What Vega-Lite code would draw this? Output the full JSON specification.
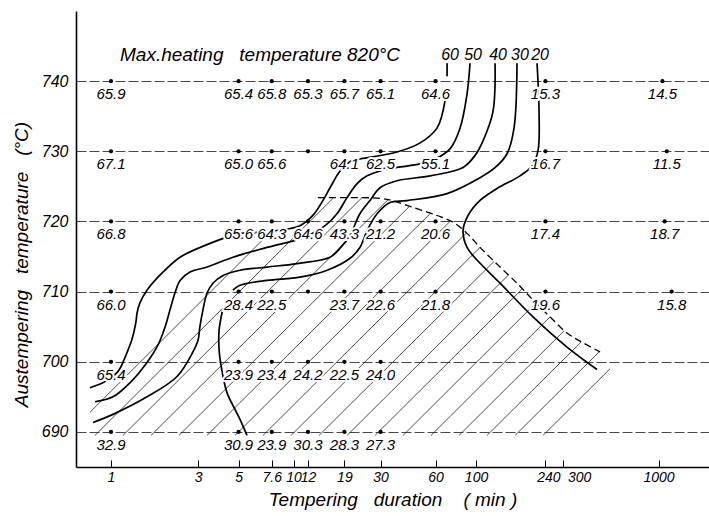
{
  "$schema": "https://vega.github.io/schema/vega-lite/v6.json",
  "width": 633,
  "height": 456,
  "autosize": {"type": "none"},
  "padding": {"left": 76, "top": 11, "right": 0, "bottom": 49},
  "background": "white",
  "config": {"view": {"stroke": null}, "font": "Liberation Sans"},
  "datasets": {
    "points": [
      {"t":1,"T":740,"h":"65.9"},{"t":5,"T":740,"h":"65.4"},{"t":7.6,"T":740,"h":"65.8"},{"t":12,"T":740,"h":"65.3"},{"t":19,"T":740,"h":"65.7"},{"t":30,"T":740,"h":"65.1"},{"t":60,"T":740,"h":"64.6"},{"t":240,"T":740,"h":"15.3"},{"t":1050,"T":740,"h":"14.5"},
      {"t":1,"T":730,"h":"67.1"},{"t":5,"T":730,"h":"65.0"},{"t":7.6,"T":730,"h":"65.6"},{"t":12,"T":730,"h":""},{"t":19,"T":730,"h":"64.1"},{"t":30,"T":730,"h":"62.5"},{"t":60,"T":730,"h":"55.1"},{"t":240,"T":730,"h":"16.7"},{"t":1110,"T":730,"h":"11.5"},
      {"t":1,"T":720,"h":"66.8"},{"t":5,"T":720,"h":"65.6"},{"t":7.6,"T":720,"h":"64.3"},{"t":12,"T":720,"h":"64.6"},{"t":19,"T":720,"h":"43.3"},{"t":30,"T":720,"h":"21.2"},{"t":60,"T":720,"h":"20.6"},{"t":240,"T":720,"h":"17.4"},{"t":1080,"T":720,"h":"18.7"},
      {"t":1,"T":710,"h":"66.0"},{"t":5,"T":710,"h":"28.4"},{"t":7.6,"T":710,"h":"22.5"},{"t":12,"T":710,"h":""},{"t":19,"T":710,"h":"23.7"},{"t":30,"T":710,"h":"22.6"},{"t":60,"T":710,"h":"21.8"},{"t":240,"T":710,"h":"19.6"},{"t":1180,"T":710,"h":"15.8"},
      {"t":1,"T":700,"h":"65.4"},{"t":5,"T":700,"h":"23.9"},{"t":7.6,"T":700,"h":"23.4"},{"t":12,"T":700,"h":"24.2"},{"t":19,"T":700,"h":"22.5"},{"t":30,"T":700,"h":"24.0"},
      {"t":1,"T":690,"h":"32.9"},{"t":5,"T":690,"h":"30.9"},{"t":7.6,"T":690,"h":"23.9"},{"t":12,"T":690,"h":"30.3"},{"t":19,"T":690,"h":"28.3"},{"t":30,"T":690,"h":"27.3"}
    ],
    "curves": [
      {"c":"60tick","i":0,"t":69.4,"T":742.55,"lab":"60"},{"c":"60tick","i":1,"t":69.4,"T":740.7},
      {"c":"60","i":0,"t":67.6,"T":737.2},{"c":"60","i":1,"t":61.1,"T":733.3},{"c":"60","i":2,"t":49.4,"T":731.2},{"c":"60","i":3,"t":36.9,"T":729.9},{"c":"60","i":4,"t":23.1,"T":728.9},{"c":"60","i":5,"t":20.9,"T":728.7},{"c":"60","i":6,"t":18.0,"T":727.2},{"c":"60","i":7,"t":15.85,"T":724.8},{"c":"60","i":8,"t":14.5,"T":723.0},{"c":"60","i":9,"t":12.8,"T":720.9},{"c":"60","i":10,"t":10.85,"T":719.4},{"c":"60","i":11,"t":9.57,"T":719.0},{"c":"60","i":12,"t":7.43,"T":718.6},{"c":"60","i":13,"t":6.0,"T":718.4},{"c":"60","i":14,"t":5.09,"T":718.3},{"c":"60","i":15,"t":3.36,"T":716.7},{"c":"60","i":16,"t":2.39,"T":714.9},{"c":"60","i":17,"t":1.93,"T":712.8},{"c":"60","i":18,"t":1.575,"T":710.2},{"c":"60","i":19,"t":1.44,"T":708.4},{"c":"60","i":20,"t":1.39,"T":707.0},{"c":"60","i":21,"t":1.37,"T":705.7},{"c":"60","i":22,"t":1.30,"T":703.1},{"c":"60","i":23,"t":1.24,"T":701.7},{"c":"60","i":24,"t":1.18,"T":700.3},{"c":"60","i":25,"t":1.09,"T":698.6},{"c":"60","i":26,"t":0.927,"T":697.2},{"c":"60","i":27,"t":0.767,"T":696.3},
      {"c":"50","i":0,"t":92.7,"T":742.55,"lab":"50"},{"c":"50","i":1,"t":89.3,"T":738.2},{"c":"50","i":2,"t":81.7,"T":733.3},{"c":"50","i":3,"t":72.0,"T":730.35},{"c":"50","i":4,"t":59.6,"T":728.9},{"c":"50","i":5,"t":49.4,"T":728.2},{"c":"50","i":6,"t":36.9,"T":727.7},{"c":"50","i":7,"t":29.8,"T":727.2},{"c":"50","i":8,"t":25.3,"T":726.5},{"c":"50","i":9,"t":22.3,"T":725.4},{"c":"50","i":10,"t":19.65,"T":723.4},{"c":"50","i":11,"t":17.3,"T":721.1},{"c":"50","i":12,"t":14.9,"T":719.4},{"c":"50","i":13,"t":11.3,"T":717.7},{"c":"50","i":14,"t":7.16,"T":716.3},{"c":"50","i":15,"t":4.66,"T":714.9},{"c":"50","i":16,"t":3.36,"T":713.5},{"c":"50","i":17,"t":2.71,"T":712.8},{"c":"50","i":18,"t":2.39,"T":711.6},{"c":"50","i":19,"t":2.24,"T":709.8},{"c":"50","i":20,"t":2.105,"T":707.4},{"c":"50","i":21,"t":1.98,"T":705.0},{"c":"50","i":22,"t":1.81,"T":702.4},{"c":"50","i":23,"t":1.575,"T":699.9},{"c":"50","i":24,"t":1.27,"T":697.0},{"c":"50","i":25,"t":1.025,"T":695.0},{"c":"50","i":26,"t":0.817,"T":694.3},
      {"c":"40","i":0,"t":127.1,"T":742.55,"lab":"40"},{"c":"40","i":1,"t":123.9,"T":735.7},{"c":"40","i":2,"t":109.2,"T":731.5},{"c":"40","i":3,"t":98.7,"T":729.4},{"c":"40","i":4,"t":84.9,"T":727.7},{"c":"40","i":5,"t":56.0,"T":726.5},{"c":"40","i":6,"t":36.9,"T":725.8},{"c":"40","i":7,"t":29.8,"T":724.8},{"c":"40","i":8,"t":26.25,"T":723.0},{"c":"40","i":9,"t":23.1,"T":721.1},{"c":"40","i":10,"t":20.4,"T":718.0},{"c":"40","i":11,"t":18.0,"T":716.2},{"c":"40","i":12,"t":15.85,"T":714.9},{"c":"40","i":13,"t":10.45,"T":714.0},{"c":"40","i":14,"t":7.16,"T":713.5},{"c":"40","i":15,"t":5.09,"T":713.05},{"c":"40","i":16,"t":4.11,"T":712.3},{"c":"40","i":17,"t":3.62,"T":711.2},{"c":"40","i":18,"t":3.36,"T":709.8},{"c":"40","i":19,"t":3.19,"T":707.4},{"c":"40","i":20,"t":3.07,"T":705.0},{"c":"40","i":21,"t":3.0,"T":703.1},{"c":"40","i":22,"t":2.81,"T":701.4},{"c":"40","i":23,"t":2.30,"T":697.9},{"c":"40","i":24,"t":1.575,"T":695.0},{"c":"40","i":25,"t":1.025,"T":692.5},{"c":"40","i":26,"t":0.797,"T":691.35},
      {"c":"30a","i":0,"t":167.7,"T":742.55,"lab":"30"},{"c":"30a","i":1,"t":161.5,"T":733.3},{"c":"30a","i":2,"t":147.9,"T":729.65},{"c":"30a","i":3,"t":127.1,"T":727.66},{"c":"30a","i":4,"t":105.2,"T":726.24},{"c":"30a","i":5,"t":69.4,"T":723.97},{"c":"30a","i":6,"t":41.9,"T":722.98},{"c":"30a","i":7,"t":33.8,"T":722.7},{"c":"30a","i":8,"t":28.7,"T":721.1},{"c":"30a","i":9,"t":25.3,"T":718.7},{"c":"30a","i":10,"t":23.1,"T":716.3},{"c":"30a","i":11,"t":20.4,"T":714.75},{"c":"30a","i":12,"t":15.3,"T":713.05},{"c":"30a","i":13,"t":10.85,"T":712.06},{"c":"30a","i":14,"t":7.16,"T":711.6},{"c":"30a","i":15,"t":5.09,"T":710.9},{"c":"30a","i":16,"t":4.66,"T":710.2},
      {"c":"30b","i":0,"t":4.11,"T":707.66},{"c":"30b","i":1,"t":3.91,"T":704.5},{"c":"30b","i":2,"t":3.91,"T":701.7},{"c":"30b","i":3,"t":4.0,"T":699.6},{"c":"30b","i":4,"t":4.32,"T":695.6},{"c":"30b","i":5,"t":4.78,"T":693.2},{"c":"30b","i":6,"t":5.09,"T":691.8},{"c":"30b","i":7,"t":5.56,"T":689.5},
      {"c":"20","i":0,"t":215.9,"T":742.55,"lab":"20"},{"c":"20","i":1,"t":221.4,"T":735.7},{"c":"20","i":2,"t":218.6,"T":730.1},{"c":"20","i":3,"t":202.7,"T":727.9},{"c":"20","i":4,"t":174.2,"T":726.5},{"c":"20","i":5,"t":130.3,"T":724.7},{"c":"20","i":6,"t":105.2,"T":723.0},{"c":"20","i":7,"t":90.4,"T":720.85},{"c":"20","i":8,"t":84.9,"T":718.7},{"c":"20","i":9,"t":89.3,"T":716.3},{"c":"20","i":10,"t":101.3,"T":714.5},{"c":"20","i":11,"t":135.4,"T":711.2},{"c":"20","i":12,"t":205.3,"T":706.4},{"c":"20","i":13,"t":315.2,"T":702.1},{"c":"20","i":14,"t":460.3,"T":698.9}
    ],
    "boundary": [
      {"i":0,"t":13.6,"T":723.4},{"i":1,"t":20.4,"T":723.4},{"i":2,"t":29.8,"T":723.3},{"i":3,"t":34.65,"T":723.0},{"i":4,"t":45.2,"T":722.0},{"i":5,"t":61.1,"T":720.85},{"i":6,"t":74.8,"T":719.9},{"i":7,"t":89.3,"T":718.3},{"i":8,"t":105.2,"T":716.3},{"i":9,"t":135.4,"T":713.5},{"i":10,"t":167.7,"T":711.2},{"i":11,"t":205.3,"T":708.8},{"i":12,"t":254.4,"T":706.4},{"i":13,"t":315.2,"T":704.1},{"i":14,"t":385.8,"T":702.7},{"i":15,"t":478.1,"T":701.4}
    ],
    "hatch": [
      {"t":0.767,"T":692.8,"t2":7.62,"T2":718.7},
      {"t":0.817,"T":689.5,"t2":16.46,"T2":723.3},
      {"t":1.163,"T":689.5,"t2":23.73,"T2":723.4},
      {"t":1.656,"T":689.5,"t2":32.95,"T2":723.1},
      {"t":2.358,"T":689.5,"t2":42.96,"T2":722.1},
      {"t":3.357,"T":689.5,"t2":55.97,"T2":721.1},
      {"t":4.781,"T":689.5,"t2":72.0,"T2":720.0},
      {"t":6.805,"T":689.5,"t2":88.2,"T2":718.3},
      {"t":9.69,"T":689.5,"t2":105.2,"T2":716.3},
      {"t":13.8,"T":689.5,"t2":125.5,"T2":714.3},
      {"t":19.65,"T":689.5,"t2":149.7,"T2":712.3},
      {"t":27.97,"T":689.5,"t2":178.7,"T2":710.35},
      {"t":39.81,"T":689.5,"t2":213.2,"T2":708.4},
      {"t":56.67,"T":689.5,"t2":254.4,"T2":706.4},
      {"t":80.7,"T":689.5,"t2":303.5,"T2":704.4},
      {"t":114.9,"T":689.5,"t2":376.2,"T2":702.8},
      {"t":163.6,"T":689.5,"t2":472.1,"T2":701.4},
      {"t":232.8,"T":689.5,"t2":542.3,"T2":699.0}
    ],
    "gridx": [{"t":1},{"t":3},{"t":10},{"t":30},{"t":100},{"t":300},{"t":1000}],
    "frame": [{"T":750}],
    "note": [{"t":1.12,"T":742.9,"txt":"Max.heating\u00a0\u00a0\u00a0temperature 820°C"}]
  },
  "encoding": {
    "x": {
      "field": "t", "type": "quantitative",
      "scale": {"type": "log", "domain": [0.643, 1890], "nice": false},
      "title": "Tempering\u00a0\u00a0\u00a0duration\u00a0\u00a0\u00a0\u00a0(\u00a0min\u00a0)",
      "axis": {
        "values": [1, 3, 5, 7.6, 10, 12, 19, 30, 60, 100, 240, 300, 1000],
        "format": "~g", "labelFontSize": 14, "labelFontStyle": "italic", "labelColor": "black",
        "labelOverlap": false, "labelFlush": false, "grid": false,
        "tickSize": -7, "tickColor": "black", "labelPadding": 10,
        "labelOffset": {"condition": [{"test": "datum.value == 300", "value": 16}, {"test": "datum.value == 240", "value": 3}], "value": 0},
        "domainColor": "black", "domainWidth": 1.6,
        "titleFontSize": 19, "titleFontStyle": "italic", "titleFontWeight": "normal", "titleColor": "black", "titlePadding": 6
      }
    },
    "y": {
      "field": "T", "type": "quantitative",
      "scale": {"domain": [685, 750], "nice": false, "zero": false},
      "title": "Austempering\u00a0\u00a0\u00a0temperature\u00a0\u00a0\u00a0(°C)",
      "axis": {
        "values": [690, 700, 710, 720, 730, 740],
        "labelFontSize": 16, "labelFontStyle": "italic", "labelColor": "black", "labelPadding": 8,
        "ticks": false, "grid": true, "gridColor": "#333", "gridWidth": 0.9, "gridDash": [10, 3],
        "domainColor": "black", "domainWidth": 1.6,
        "titleFontSize": 19, "titleFontStyle": "italic", "titleFontWeight": "normal", "titleColor": "black",
        "titleY": 253, "titlePadding": 10
      }
    }
  },
  "layer": [
    {"data": {"name": "gridx"}, "mark": {"type": "rule", "color": "#333", "strokeWidth": 0.9},
     "encoding": {"y": {"datum": 685}, "y2": {"datum": 750}}},
    {"data": {"name": "frame"}, "mark": {"type": "rule", "color": "black", "strokeWidth": 1.6},
     "encoding": {"x": {"datum": 0.643}, "x2": {"datum": 1890}}},
    {"data": {"name": "hatch"}, "mark": {"type": "rule", "color": "#222", "strokeWidth": 0.8},
     "encoding": {"x2": {"field": "t2"}, "y2": {"field": "T2"}}},
    {"data": {"name": "boundary"}, "mark": {"type": "line", "color": "black", "strokeWidth": 1.3, "strokeDash": [7, 4], "interpolate": "catmull-rom"},
     "encoding": {"order": {"field": "i", "type": "quantitative"}}},
    {"data": {"name": "curves"}, "mark": {"type": "line", "color": "black", "strokeWidth": 1.7, "interpolate": "catmull-rom"},
     "encoding": {"detail": {"field": "c", "type": "nominal"}, "order": {"field": "i", "type": "quantitative"}}},
    {"data": {"name": "points"}, "mark": {"type": "text", "fontSize": 15, "fontStyle": "italic", "fill": "white", "stroke": "white", "strokeWidth": 4, "baseline": "middle", "dy": 13},
     "encoding": {"text": {"field": "h"}}},
    {"data": {"name": "points"}, "mark": {"type": "text", "fontSize": 15, "fontStyle": "italic", "color": "black", "baseline": "middle", "dy": 13},
     "encoding": {"text": {"field": "h"}}},
    {"data": {"name": "points"}, "mark": {"type": "circle", "color": "black", "opacity": 1, "size": 18}},
    {"data": {"name": "curves"}, "transform": [{"filter": "datum.lab"}],
     "mark": {"type": "text", "fontSize": 16, "fontStyle": "italic", "color": "black", "baseline": "middle", "dy": -8, "dx": 3},
     "encoding": {"text": {"field": "lab"}}},
    {"data": {"name": "note"}, "mark": {"type": "text", "fontSize": 19, "fontStyle": "italic", "color": "black", "align": "left", "baseline": "alphabetic"},
     "encoding": {"text": {"field": "txt"}}}
  ]
}
